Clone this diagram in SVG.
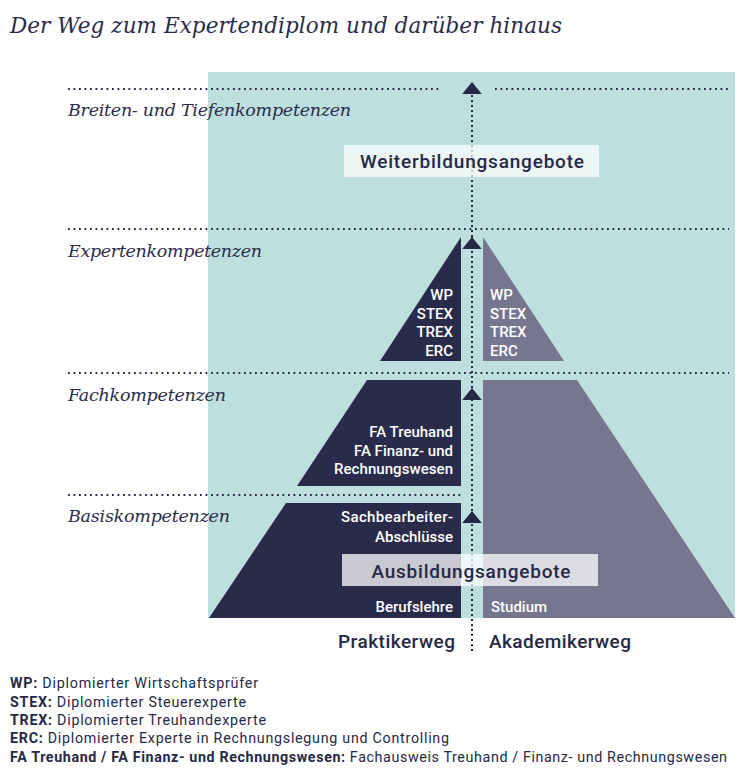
<svg xmlns="http://www.w3.org/2000/svg" width="751" height="779" viewBox="0 0 751 779">
<style>
.title{font-family:"DejaVu Serif","Liberation Serif",serif;font-style:italic;font-size:21.5px;fill:#2a2c4a}
.lvl{font-family:"DejaVu Serif","Liberation Serif",serif;font-style:italic;font-size:17.5px;fill:#2a2c4a}
.wt{font-family:Roboto,"Liberation Sans",sans-serif;font-weight:500;font-size:15px;fill:#ffffff}
.big{font-family:Roboto,"Liberation Sans",sans-serif;font-weight:500;font-size:19px;fill:#262945}
.leg{font-family:Roboto,"Liberation Sans",sans-serif;font-size:14.3px;fill:#262945}
.leg tspan.b{font-weight:700}
.dot{fill:none;stroke:#262945;stroke-width:1.8;stroke-dasharray:1.8 3.7}
.vdot{fill:none;stroke:#262945;stroke-width:2;stroke-dasharray:2 3}
.dark{fill:#292b4a}
.grey{fill:#76768f}
.box{fill:#ffffff}
</style>
<defs>
<marker id="arr" markerUnits="userSpaceOnUse" markerWidth="12" markerHeight="20" viewBox="0 0 11 18" refX="11" refY="9" orient="auto">
<path d="M0,0 L11,9 L0,18 Z" fill="#262945"/>
</marker>
</defs>
<rect width="751" height="779" fill="#ffffff"/>
<text class="title" x="10" y="33" textLength="552">Der Weg zum Expertendiplom und darüber hinaus</text>
<rect id="background" x="208" y="72" width="527" height="546" fill="#bddfdd"/>
<g id="levels">
<line class="dot" x1="68" y1="89" x2="442" y2="89"/>
<line class="dot" x1="495" y1="89" x2="729" y2="89"/>
<line class="dot" x1="68" y1="229" x2="729" y2="229"/>
<line class="dot" x1="68" y1="373" x2="729" y2="373"/>
<line class="dot" x1="68" y1="495" x2="461" y2="495"/>
<text class="lvl" x="68" y="116" textLength="283">Breiten- und Tiefenkompetenzen</text>
<text class="lvl" x="68" y="257" textLength="194">Expertenkompetenzen</text>
<text class="lvl" x="68" y="401" textLength="158">Fachkompetenzen</text>
<text class="lvl" x="68" y="522" textLength="162">Basiskompetenzen</text>
</g>
<g id="expert-praktiker">
<polygon class="dark" points="461,237 461,361 380,361"/>
<text class="wt" text-anchor="end" x="453" y="300">WP</text>
<text class="wt" text-anchor="end" x="453" y="319">STEX</text>
<text class="wt" text-anchor="end" x="453" y="337">TREX</text>
<text class="wt" text-anchor="end" x="453" y="356">ERC</text>
</g>
<g id="expert-akademiker">
<polygon class="grey" points="483,237 483,361 564,361"/>
<text class="wt" x="490" y="300">WP</text>
<text class="wt" x="490" y="319">STEX</text>
<text class="wt" x="490" y="337">TREX</text>
<text class="wt" x="490" y="356">ERC</text>
</g>
<g id="fach-praktiker">
<polygon class="dark" points="367,380 461,380 461,486 297,486"/>
<text class="wt" text-anchor="end" x="453" y="437">FA Treuhand</text>
<text class="wt" text-anchor="end" x="453" y="456">FA Finanz- und</text>
<text class="wt" text-anchor="end" x="453" y="474" textLength="119">Rechnungswesen</text>
</g>
<g id="basis-praktiker">
<polygon class="dark" points="286,503 461,503 461,618 209,618"/>
<text class="wt" text-anchor="end" x="453" y="522" textLength="112">Sachbearbeiter-</text>
<text class="wt" text-anchor="end" x="453" y="542">Abschlüsse</text>
<text class="wt" text-anchor="end" x="453" y="612">Berufslehre</text>
</g>
<g id="akademiker">
<polygon class="grey" points="483,380 577,380 735,618 483,618"/>
<text class="wt" x="491" y="612">Studium</text>
</g>
<g id="connectors">
<line class="vdot" x1="472" y1="651" x2="472" y2="511" marker-end="url(#arr)"/>
<line class="vdot" x1="472" y1="511" x2="472" y2="388" marker-end="url(#arr)"/>
<line class="vdot" x1="472" y1="388" x2="472" y2="237" marker-end="url(#arr)"/>
<line class="vdot" x1="472" y1="237" x2="472" y2="82" marker-end="url(#arr)"/>
</g>
<g id="weiterbildung">
<rect class="box" x="344" y="145" width="255" height="32" fill-opacity="0.7"/>
<text class="big" text-anchor="middle" x="472" y="168" textLength="224">Weiterbildungsangebote</text>
</g>
<g id="ausbildung">
<rect class="box" x="342" y="554" width="256" height="32" fill-opacity="0.75"/>
<text class="big" text-anchor="middle" x="471" y="578" textLength="199">Ausbildungsangebote</text>
</g>
<g id="wege">
<text class="big" text-anchor="end" x="455" y="648" textLength="117">Praktikerweg</text>
<text class="big" x="489" y="648" textLength="142">Akademikerweg</text>
</g>
<g id="legend">
<text class="leg" x="10" y="688" textLength="248"><tspan class="b">WP:</tspan> Diplomierter Wirtschaftsprüfer</text>
<text class="leg" x="10" y="707" textLength="236"><tspan class="b">STEX:</tspan> Diplomierter Steuerexperte</text>
<text class="leg" x="10" y="725" textLength="256"><tspan class="b">TREX:</tspan> Diplomierter Treuhandexperte</text>
<text class="leg" x="10" y="743" textLength="439"><tspan class="b">ERC:</tspan> Diplomierter Experte in Rechnungslegung und Controlling</text>
<text class="leg" x="10" y="762" textLength="717"><tspan class="b">FA Treuhand / FA Finanz- und Rechnungswesen:</tspan> Fachausweis Treuhand / Finanz- und Rechnungswesen</text>
</g>
</svg>
